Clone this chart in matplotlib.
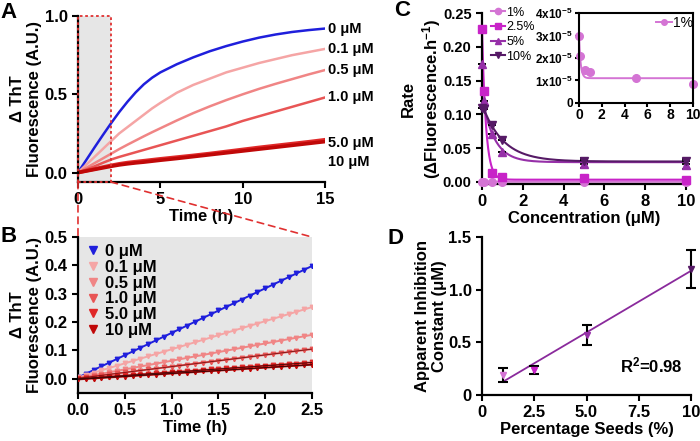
import numpy as np
import matplotlib
matplotlib.use("Agg")
import matplotlib.pyplot as plt
from matplotlib.patches import Rectangle, ConnectionPatch

plt.rcParams['font.family'] = ['Liberation Sans', 'DejaVu Sans']
plt.rcParams['font.weight'] = 'bold'
plt.rcParams['axes.labelweight'] = 'bold'
plt.rcParams['mathtext.fontset'] = 'custom'
plt.rcParams['mathtext.rm'] = 'Liberation Sans:bold'
plt.rcParams['mathtext.bf'] = 'Liberation Sans:bold'
plt.rcParams['mathtext.it'] = 'Liberation Sans:bold'
plt.rcParams['axes.linewidth'] = 1.6
plt.rcParams['xtick.major.width'] = 1.5
plt.rcParams['ytick.major.width'] = 1.5
plt.rcParams['xtick.major.size'] = 4
plt.rcParams['ytick.major.size'] = 4

# ---- panel A: ThT kinetics over 15 h ----
conc_labels = ["0 μM", "0.1 μM", "0.5 μM", "1.0 μM", "5.0 μM", "10 μM"]
conc_colors = ["#1f1fdc", "#f5a5a5", "#f08585", "#e85555", "#e02828", "#c00808"]
time_a = [0, 0.5, 1, 1.5, 2, 2.5, 3, 3.5, 4, 4.5, 5, 6, 7, 8, 9, 10, 11, 12, 13, 14, 15]
tht_0 = [0, 0.08, 0.16, 0.238, 0.314, 0.386, 0.452, 0.512, 0.564, 0.606, 0.64, 0.692, 0.736, 0.775,
         0.808, 0.837, 0.862, 0.882, 0.898, 0.91, 0.92]
tht_01 = [0, 0.05, 0.10, 0.15, 0.20, 0.25, 0.29, 0.33, 0.37, 0.41, 0.445, 0.51, 0.56, 0.60,
          0.64, 0.67, 0.70, 0.725, 0.75, 0.77, 0.79]
tht_05 = [0, 0.03, 0.06, 0.09, 0.12, 0.15, 0.178, 0.205, 0.232, 0.258, 0.283, 0.333, 0.38, 0.423,
          0.463, 0.50, 0.535, 0.567, 0.597, 0.627, 0.655]
tht_1 = [0, 0.02, 0.04, 0.062, 0.083, 0.10, 0.115, 0.13, 0.145, 0.16, 0.175, 0.205, 0.235, 0.265,
         0.295, 0.33, 0.36, 0.39, 0.42, 0.45, 0.48]
tht_5 = [0, 0.012, 0.023, 0.035, 0.046, 0.056, 0.064, 0.07, 0.076, 0.082, 0.088, 0.099, 0.11, 0.122,
         0.135, 0.148, 0.161, 0.173, 0.185, 0.197, 0.21]
tht_10 = [0, 0.01, 0.02, 0.03, 0.04, 0.049, 0.056, 0.062, 0.067, 0.073, 0.079, 0.09, 0.102, 0.114,
          0.126, 0.138, 0.15, 0.162, 0.174, 0.186, 0.198]
tht_a = [tht_0, tht_01, tht_05, tht_1, tht_5, tht_10]

# ---- panel B: first 2.5 h, reads every 5 min ----
minutes_b = list(range(0, 155, 5))
early_0 = [0.005, 0.017, 0.031, 0.044, 0.057, 0.070, 0.083, 0.097, 0.110, 0.122, 0.136, 0.149, 0.162, 0.175, 0.188, 0.201,
           0.214, 0.228, 0.241, 0.254, 0.267, 0.279, 0.293, 0.306, 0.319, 0.332, 0.345, 0.358, 0.372, 0.385, 0.398]
early_01 = [0.005, 0.013, 0.022, 0.030, 0.038, 0.046, 0.055, 0.063, 0.071, 0.079, 0.088, 0.096, 0.104, 0.112, 0.121, 0.129,
            0.137, 0.146, 0.154, 0.162, 0.170, 0.179, 0.187, 0.195, 0.203, 0.212, 0.220, 0.228, 0.236, 0.245, 0.253]
early_05 = [0.003, 0.008, 0.013, 0.018, 0.023, 0.028, 0.033, 0.038, 0.044, 0.049, 0.054, 0.059, 0.064, 0.069, 0.074, 0.079,
            0.084, 0.089, 0.094, 0.099, 0.104, 0.109, 0.115, 0.120, 0.125, 0.130, 0.135, 0.140, 0.145, 0.150, 0.155]
early_1 = [0.002, 0.005, 0.009, 0.012, 0.016, 0.019, 0.023, 0.026, 0.029, 0.033, 0.036, 0.040, 0.043, 0.047, 0.050, 0.053,
           0.057, 0.060, 0.064, 0.067, 0.071, 0.074, 0.077, 0.081, 0.084, 0.088, 0.091, 0.095, 0.098, 0.101, 0.105]
early_5 = [0.000, 0.002, 0.004, 0.006, 0.008, 0.010, 0.012, 0.014, 0.015, 0.017, 0.019, 0.021, 0.023, 0.025, 0.027, 0.029,
           0.031, 0.033, 0.035, 0.037, 0.039, 0.041, 0.042, 0.044, 0.046, 0.048, 0.050, 0.052, 0.054, 0.056, 0.058]
early_10 = [-0.002, 0.000, 0.001, 0.003, 0.005, 0.007, 0.008, 0.010, 0.012, 0.014, 0.015, 0.017, 0.019, 0.021, 0.022, 0.024,
            0.026, 0.027, 0.029, 0.031, 0.033, 0.034, 0.036, 0.038, 0.040, 0.041, 0.043, 0.045, 0.046, 0.048, 0.050]
early_b = [early_0, early_01, early_05, early_1, early_5, early_10]

# ---- panel C: rate vs inhibitor concentration ----
seed_labels = ["1%", "2.5%", "5%", "10%"]
seed_colors = ["#d474d4", "#c823c8", "#9630a8", "#561a66"]
seed_markers = ["o", "s", "^", "v"]
conc_c = [0, 0.1, 0.5, 1, 5, 10]
rate_1 = [3.0e-5, 2.1e-5, 1.46e-5, 1.38e-5, 1.09e-5, 0.84e-5]
rate_25 = [0.226, 0.135, 0.013, 0.007, 0.005, 0.003]
rate_5 = [0.175, 0.12, 0.071, 0.044, 0.026, 0.025]
rate_10 = [0.11, 0.108, 0.084, 0.062, 0.031, 0.030]
rate_err_5 = [0, 0, 0, 0, 0.006, 0.006]
rate_err_10 = [0, 0, 0, 0, 0.004, 0.004]
rates = [rate_1, rate_25, rate_5, rate_10]
rate_errs = [None, None, rate_err_5, rate_err_10]
# one-phase decay fits: plateau, span, k
decay_fits = [(1.1e-5, 1.95e-5, 7.0), (0.003, 0.222, 5.2), (0.029, 0.096, 1.65), (0.030, 0.085, 0.98)]

# ---- panel D: apparent inhibition constant ----
seed_pct = [1, 2.5, 5, 10]
ki_app = [0.19, 0.24, 0.57, 1.2]
ki_err = [0.065, 0.04, 0.095, 0.18]

fig = plt.figure(figsize=(7, 4.41), dpi=100)


def style(ax, size=12):
    ax.spines['top'].set_visible(False)
    ax.spines['right'].set_visible(False)
    ax.tick_params(labelsize=size)


def two_line_ylabel(ax, top, bottom):
    # second line is the real ylabel, first line sits just left of it
    ax.set_ylabel(bottom, fontsize=12, labelpad=2)
    ax.annotate(top, xy=(0, 0.5), xycoords=ax.yaxis.label, xytext=(-1, 0), textcoords='offset points',
                rotation=90, ha='right', va='center', fontsize=12, fontweight='bold')


# A
axA = fig.add_axes([0.1114, 0.5873, 0.353, 0.3764])
style(axA)
a_lo = -0.06
box_end = 2.0
axA.add_patch(Rectangle((0, a_lo), box_end, 1.0 - a_lo, facecolor="#e6e6e6", edgecolor="none", zorder=0))
widths = [1.8, 1.8, 1.8, 1.8, 2.6, 2.6]
for vals, c, w in zip(tht_a, conc_colors, widths):
    axA.plot(time_a, vals, color=c, lw=w)
axA.add_patch(Rectangle((0, a_lo), box_end, 1.0 - a_lo, facecolor="none", edgecolor="#e03030",
                        ls=(0, (1.5, 1.5)), lw=1.3, zorder=5, clip_on=False))
label_shift = [0, 0, 0, 0, -0.02, -0.13]
for vals, lab, dy in zip(tht_a, conc_labels, label_shift):
    axA.text(15.2, vals[-1] + dy, lab, fontsize=10.5, fontweight='bold', va='center', ha='left', clip_on=False)
axA.set_xlim(0, 15)
axA.set_ylim(a_lo, 1.0)
axA.set_xticks([0, 5, 10, 15])
axA.set_yticks([0, 0.5, 1.0])
axA.set_yticklabels(["0.0", "0.5", "1.0"])
axA.set_xlabel("Time (h)", fontsize=12, labelpad=1)
two_line_ylabel(axA, "Δ ThT", "Fluorescence (A.U.)")

# B
axB = fig.add_axes([0.1114, 0.1088, 0.3343, 0.3537])
style(axB)
axB.set_facecolor("#e6e6e6")
hours_b = np.array(minutes_b) / 60.0
fit_colors = [None, None, None, "#7a1010", "#3a0808", "#2a0505"]
for vals, c, lab, fc in zip(early_b, conc_colors, conc_labels, fit_colors):
    slope, icpt = np.polyfit(hours_b, vals, 1)
    axB.plot(hours_b, slope * hours_b + icpt, color=c, lw=1.4, zorder=2)
    if fc:
        axB.plot(hours_b, slope * hours_b + icpt, color=fc, lw=0.6, zorder=4)
    axB.plot(hours_b, vals, ls='none', marker='v', ms=3.2, color=c, zorder=3, label=lab)
axB.set_xlim(0, 2.5)
axB.set_ylim(-0.05, 0.5)
axB.set_xticks(np.arange(0, 2.51, 0.5))
axB.set_xticklabels(["0.0", "0.5", "1.0", "1.5", "2.0", "2.5"])
axB.set_yticks(np.arange(0, 0.51, 0.1))
axB.set_yticklabels(["0.0", "0.1", "0.2", "0.3", "0.4", "0.5"])
axB.set_xlabel("Time (h)", fontsize=12, labelpad=1)
two_line_ylabel(axB, "Δ ThT", "Fluorescence (A.U.)")
axB.legend(loc='upper left', bbox_to_anchor=(0.0, 1.02), frameon=False, fontsize=12,
           handlelength=0.6, handletextpad=0.4, labelspacing=0.05, markerscale=1.6, borderaxespad=0.2)

# A -> B zoom connectors
for xa, xb in [(0, 0), (box_end, 1)]:
    con = ConnectionPatch(xyA=(xa, a_lo), coordsA=axA.transData, xyB=(xb, 1), coordsB=axB.transAxes,
                          color="#e03030", ls=(0, (4, 3)), lw=1.2)
    fig.add_artist(con)

# C
axC = fig.add_axes([0.6886, 0.5834, 0.2914, 0.3864])
style(axC)
axC.tick_params(axis='y', labelsize=10.5)
xs = np.linspace(0, 10, 400)
for vals, err, fit, c, m, lab in zip(rates, rate_errs, decay_fits, seed_colors, seed_markers, seed_labels):
    plateau, span, k = fit
    axC.plot(xs, plateau + span * np.exp(-k * xs), color=c, lw=1.5, zorder=2)
    if err is not None:
        axC.errorbar(conc_c, vals, yerr=err, fmt='none', ecolor='black', elinewidth=1.3, capsize=3,
                     capthick=1.3, zorder=3, clip_on=False)
    axC.plot(conc_c, vals, ls='none', marker=m, ms=5.5, color=c, zorder=4, clip_on=False)
    axC.plot([], [], color=c, marker=m, ms=4.5, lw=1.5, label=lab)
axC.set_xlim(0, 10)
axC.set_ylim(-0.003, 0.25)
axC.set_xticks([0, 2, 4, 6, 8, 10])
axC.set_yticks([0, 0.05, 0.10, 0.15, 0.20, 0.25])
axC.set_yticklabels(["0.00", "0.05", "0.10", "0.15", "0.20", "0.25"])
axC.set_xlabel("Concentration (μM)", fontsize=12, labelpad=1)
axC.set_ylabel("Rate\n(ΔFluorescence.h$^{-1}$)", fontsize=12, labelpad=0)
axC.legend(loc='upper left', bbox_to_anchor=(0.045, 1.04), frameon=False,
           prop={'size': 9, 'weight': 'normal'}, handlelength=1.1, handletextpad=0.1,
           labelspacing=0.22, borderaxespad=0.0, borderpad=0.0)

# C inset
axI = fig.add_axes([0.8271, 0.7669, 0.1629, 0.2029])
axI.tick_params(axis='y', labelsize=8.5, length=3, pad=1.5)
axI.tick_params(axis='x', labelsize=10, length=3, pad=1)
for sp in axI.spines.values():
    sp.set_linewidth(1.5)
p, s, k = decay_fits[0]
axI.plot(xs, p + s * np.exp(-k * xs), color=seed_colors[0], lw=1.4)
axI.plot(conc_c, rate_1, ls='none', marker='o', ms=5.5, color=seed_colors[0], clip_on=False)
axI.plot([], [], color=seed_colors[0], marker='o', ms=4, lw=1.4, label="1%")
axI.set_xlim(0, 10)
axI.set_ylim(0, 4e-5)
axI.set_xticks([0, 2, 4, 6, 8, 10])
axI.set_yticks([0, 1e-5, 2e-5, 3e-5, 4e-5])
axI.set_yticklabels(["0", "1x10$^{-5}$", "2x10$^{-5}$", "3x10$^{-5}$", "4x10$^{-5}$"])
axI.legend(loc='upper right', bbox_to_anchor=(1.0, 0.97), frameon=False,
           prop={'size': 10, 'weight': 'normal'}, handlelength=1.1, handletextpad=0.1,
           borderaxespad=0.0, borderpad=0.0)

# D
axD = fig.add_axes([0.6886, 0.1043, 0.2986, 0.3583])
style(axD)
slope, icpt = np.polyfit(seed_pct, ki_app, 1)
xfit = np.array([min(seed_pct), max(seed_pct)])
axD.plot(xfit, slope * xfit + icpt, color="#8a2a9c", lw=1.3, zorder=2)
axD.errorbar(seed_pct, ki_app, yerr=ki_err, fmt='none', ecolor='black', elinewidth=1.5, capsize=3.5,
             capthick=1.5, zorder=3, clip_on=False)
for x, y, c in zip(seed_pct, ki_app, seed_colors):
    axD.plot(x, y, marker='v', ms=4, color=c, ls='none', zorder=4, clip_on=False)
axD.text(6.6, 0.28, "R$^{2}$=0.98", fontsize=12, fontweight='bold', va='center')
axD.set_xlim(0, 10)
axD.set_ylim(0, 1.5)
axD.set_xticks([0, 2.5, 5, 7.5, 10])
axD.set_xticklabels(["0", "2.5", "5.0", "7.5", "10"])
axD.set_yticks([0, 0.5, 1.0, 1.5])
axD.set_yticklabels(["0", "0.5", "1.0", "1.5"])
axD.set_xlabel("Percentage Seeds (%)", fontsize=12, labelpad=1)
axD.set_ylabel("Apparent Inhibition\nConstant (μM)", fontsize=12, labelpad=1)

# panel letters
for lab, x, y in [("A", 0.0, 0.972), ("B", 0.0, 0.464), ("C", 0.563, 0.976), ("D", 0.553, 0.46)]:
    fig.text(x, y, lab, fontsize=16, fontweight='bold', ha='left', va='center')

fig.savefig("out.png", dpi=100)
